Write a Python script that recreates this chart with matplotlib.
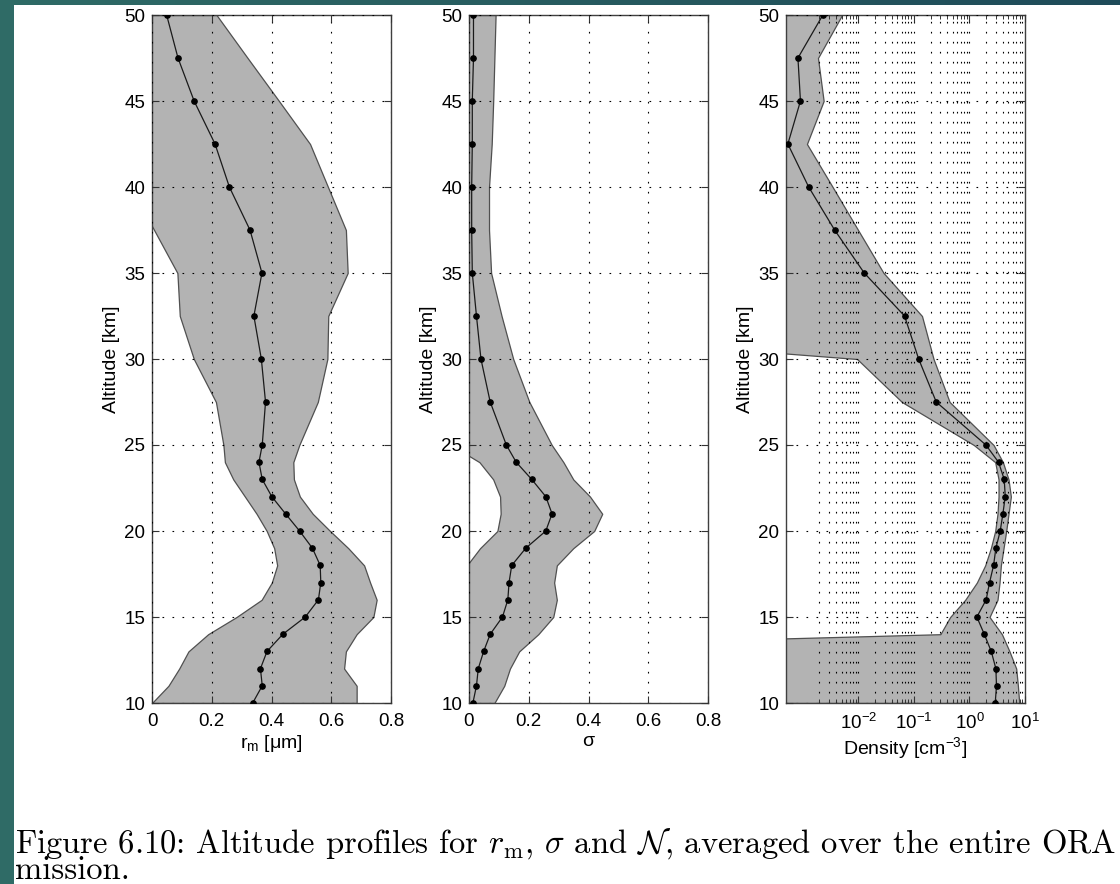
import numpy as np
import matplotlib
matplotlib.use('Agg')
import matplotlib.pyplot as plt
from matplotlib.patches import Rectangle
from matplotlib.ticker import FixedLocator, NullFormatter, LogFormatterSciNotation

plt.rcParams['font.family'] = ['Liberation Sans', 'DejaVu Sans']
plt.rcParams['mathtext.fontset'] = 'custom'
plt.rcParams['mathtext.rm'] = 'Liberation Sans'
plt.rcParams['mathtext.it'] = 'Liberation Sans:italic'
plt.rcParams['mathtext.bf'] = 'Liberation Sans:bold'

# altitude levels [km]
alt = [50, 47.5, 45, 42.5, 40, 37.5, 35, 32.5, 30, 27.5, 25, 24, 23, 22,
       21, 20, 19, 18, 17, 16, 15, 14, 13, 12, 11, 10]

# median radius r_m [um]
rm_mean = [0.049, 0.087, 0.141, 0.211, 0.259, 0.328, 0.368, 0.341, 0.366, 0.380,
           0.369, 0.358, 0.369, 0.401, 0.447, 0.494, 0.537, 0.563, 0.565, 0.557,
           0.513, 0.438, 0.385, 0.363, 0.369, 0.337]
rm_upper = [0.216, 0.320, 0.425, 0.529, 0.589, 0.649, 0.655, 0.590, 0.587, 0.555,
            0.493, 0.473, 0.475, 0.495, 0.538, 0.596, 0.657, 0.710, 0.730, 0.752,
            0.741, 0.685, 0.649, 0.643, 0.685, 0.685]
rm_lower = [-0.118, -0.146, -0.143, -0.107, -0.071, 0.007, 0.085, 0.093, 0.140, 0.214,
            0.239, 0.244, 0.272, 0.311, 0.350, 0.384, 0.409, 0.419, 0.401, 0.367,
            0.283, 0.188, 0.122, 0.091, 0.055, 0.0]

# distribution width sigma
sig_mean = [0.015, 0.015, 0.011, 0.011, 0.009, 0.009, 0.011, 0.025, 0.040, 0.071,
            0.125, 0.158, 0.210, 0.257, 0.278, 0.257, 0.190, 0.143, 0.134, 0.130,
            0.112, 0.071, 0.049, 0.031, 0.025, 0.013]
sig_upper = [0.089, 0.085, 0.081, 0.076, 0.067, 0.067, 0.074, 0.109, 0.148, 0.202,
             0.277, 0.316, 0.349, 0.405, 0.446, 0.419, 0.349, 0.294, 0.285, 0.294,
             0.282, 0.232, 0.168, 0.137, 0.118, 0.085]
sig_lower = [-0.059, -0.055, -0.059, -0.054, -0.049, -0.049, -0.052, -0.059, -0.068, -0.060,
             -0.060, 0.035, 0.081, 0.104, 0.106, 0.095, 0.037, -0.007, -0.017, -0.034,
             -0.058, -0.090, -0.070, -0.075, -0.068, -0.059]

# number density N [cm^-3]
dens_mean = [2.3e-3, 8.2e-4, 9.1e-4, 5.4e-4, 1.28e-3, 3.75e-3, 1.28e-2, 6.8e-2, 0.122, 0.253,
             1.98, 3.34, 4.23, 4.41, 4.0, 3.58, 2.99, 2.72, 2.30, 2.0,
             1.36, 1.85, 2.47, 2.99, 3.07, 2.91]
dens_upper = [5.1e-3, 1.88e-3, 2.38e-3, 1.19e-3, 3.45e-3, 9.9e-3, 2.85e-2, 0.14, 0.226, 0.44,
              2.72, 4.0, 5.05, 5.57, 5.05, 4.59, 4.11, 3.68, 3.48, 3.2,
              2.3, 3.84, 5.26, 6.95, 7.45, 7.87]
dens_lower = [1e-12, 1e-12, 1e-12, 1e-12, 1e-12, 1e-12, 1e-12, 1e-12, 9.5e-3, 0.061,
              1.2, 2.91, 3.34, 3.34, 3.2, 2.91, 2.43, 1.92, 1.36, 0.84,
              0.45, 0.30, 1e-12, 1e-12, 1e-12, 1e-12]

lin_ticks = [0, 0.2, 0.4, 0.6, 0.8]
lin_labels = ['0', '0.2', '0.4', '0.6', '0.8']
alt_ticks = [10, 15, 20, 25, 30, 35, 40, 45, 50]
log_ticks = [1e-2, 1e-1, 1e0, 1e1]
log_minor = [m * 10.0 ** k for k in range(-3, 1) for m in range(2, 10)]

fig = plt.figure(figsize=(11.2, 8.84), dpi=100)
fig.patch.set_facecolor('white')

# slide frame behind the figure
bg = fig.add_axes([0, 0, 1, 1], zorder=-10)
bg.set_xlim(0, 1120)
bg.set_ylim(884, 0)
bg.axis('off')
grad = np.linspace(0, 1, 256)[None, :]
bg.imshow(grad, extent=[0, 1120, 5, 0], aspect='auto',
          cmap=matplotlib.colors.LinearSegmentedColormap.from_list('frame', ['#2f6b66', '#1f4b59']))
bg.add_patch(Rectangle((0, 0), 14, 884, color='#2f6b66', lw=0))

fill_c = '#b3b3b3'
edge_c = '#505050'
grid_kw = dict(color='black', linestyle=(0, (1.5, 7.5)), linewidth=0.8)

lefts = [152, 469, 786]
width = 239 / 1120
bottom = 1 - 703 / 884
height = (703 - 15) / 884

panels = [
    (rm_mean, rm_lower, rm_upper, r'$\mathregular{r_m}$ [μm]'),
    (sig_mean, sig_lower, sig_upper, 'σ'),
    (dens_mean, dens_lower, dens_upper, r'Density [cm$^{\mathregular{-3}}$]'),
]

for i, (mean, lo, hi, xlabel) in enumerate(panels):
    ax = fig.add_axes([lefts[i] / 1120, bottom, width, height])
    ax.fill_betweenx(alt, lo, hi, facecolor=fill_c, edgecolor=edge_c, linewidth=0.9, zorder=1)
    ax.plot(mean, alt, color='#1a1a1a', lw=0.9, marker='o', ms=3.8,
            mfc='black', mec='black', zorder=3)
    ax.set_ylim(10, 50)
    ax.set_yticks(alt_ticks)
    ax.set_axisbelow(False)
    if i < 2:
        ax.set_xlim(0, 0.8)
        ax.set_xticks(lin_ticks)
        ax.set_xticklabels(lin_labels)
        ax.grid(True, **grid_kw)
    else:
        ax.set_xscale('log')
        ax.set_xlim(5e-4, 10)
        ax.xaxis.set_major_locator(FixedLocator(log_ticks))
        ax.xaxis.set_minor_locator(FixedLocator(log_minor))
        ax.xaxis.set_major_formatter(LogFormatterSciNotation())
        ax.xaxis.set_minor_formatter(NullFormatter())
        ax.grid(True, which='both', axis='x', **grid_kw)
        ax.grid(True, which='major', axis='y', **grid_kw)
        ax.tick_params(axis='x', which='minor', direction='in', length=3,
                       width=0.7, top=True, bottom=True, color='#333333')
    ax.tick_params(which='major', direction='in', length=5, width=0.8,
                   top=True, right=True, labelsize=13.5, color='#333333')
    ax.tick_params(axis='x', pad=7)
    ax.tick_params(axis='y', pad=5)
    for sp in ax.spines.values():
        sp.set_color('#404040')
        sp.set_linewidth(1.0)
    ax.set_ylabel('Altitude [km]', fontsize=14, labelpad=3)
    ax.set_xlabel(xlabel, fontsize=14, labelpad=2)

# figure caption, two lines; baseline placed on the last line
caption = (r'Figure 6.10: Altitude profiles for $r_\mathrm{m}$, $\sigma$ and $\mathcal{N}$, '
           r'averaged over the entire ORA' + '\nmission.')
fig.text(15 / 1120, 1 - 879 / 884, caption, fontfamily='cmr10', math_fontfamily='cm',
         fontsize=23.5, va='baseline', ha='left', linespacing=0.8)

fig.savefig('out.png', dpi=100)
